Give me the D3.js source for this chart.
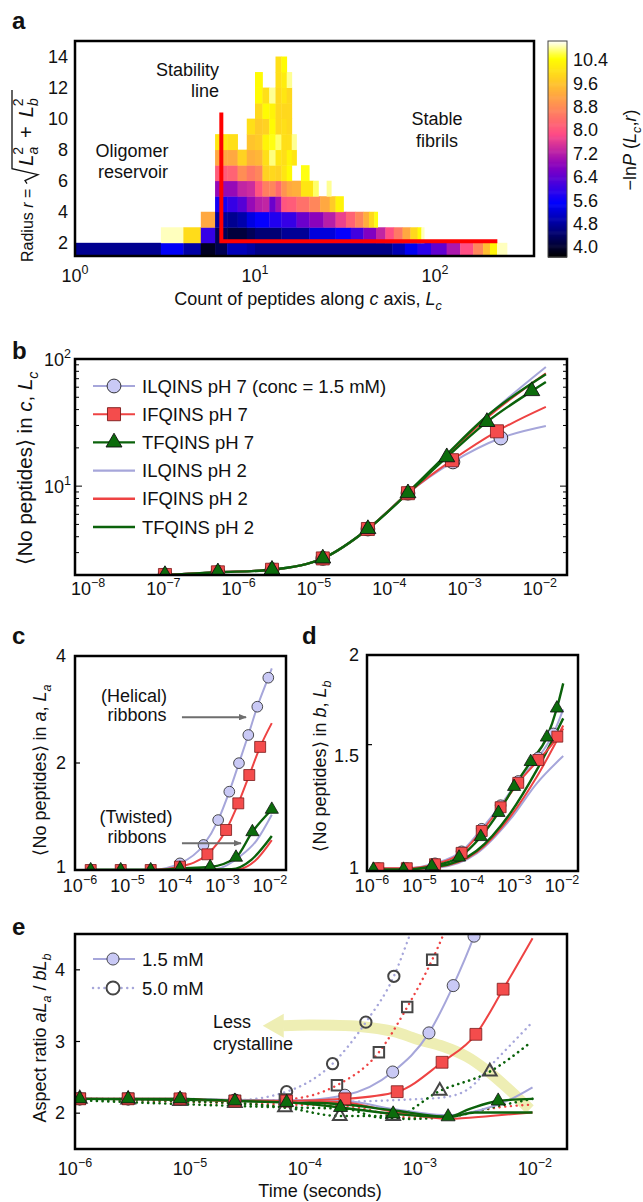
<!DOCTYPE html>
<html>
<head>
<meta charset="utf-8">
<script src="https://cdn.jsdelivr.net/npm/d3@7"></script>
<style>
  body { margin: 0; background: #fff; }
  text { font-family: "Liberation Sans", Arial, Helvetica, sans-serif; fill: #111; }
</style>
</head>
<body>
<script>
// ---------- panel a: -lnP(Lc, r), one array per radius bin: [Lc from, Lc to, value]
const rowR1 = [[1,3,4.7],[3,4,5.45],[4,5,4.85],[5,6,3.9],[6,7,4.25],[7,9,5.0],[9,10,4.85],[10,58,4.62],[58,68,4.95],[68,80,5.4],[80,95,5.9],[95,116,6.4],[116,138,7.1],[138,163,7.9],[163,185,8.7],[185,202,9.5],[202,221,10.3],[221,251,10.9]];
const rowR2 = [[3,4,10.9],[4,5,9.95],[5,6,6.0],[6,7,4.3],[7,9,4.1],[9,10,4.3],[10,14,4.5],[14,20,4.75],[20,28,5.25],[28,34,5.55],[34,40,6.1],[40,47,6.7],[47,53,7.3],[53,59,7.9],[59,66,8.5],[66,73,9.2],[73,80,9.9],[80,84,10.4],[84,87,10.9]];
const rowR3 = [[5,6,9.2],[6,7,4.8],[7,8,4.7],[8,9,4.9],[9,10,5.3],[10,12,5.55],[12,14,5.8],[14,17,6.0],[17,20,6.5],[20,24,6.8],[24,28,7.2],[28,32,7.7],[32,36,8.2],[36,40,8.7],[40,43,9.3],[43,46,9.9],[46,48,10.5]];
const rowR4 = [[6,7,5.7],[7,8,6.0],[8,9,6.3],[9,10,6.9],[10,11,7.2],[11,12,7.3],[12,13,6.5],[13,14,7.0],[14,15,8.0],[15,17,8.1],[17,20,8.4],[20,23,8.7],[23,26,9.2],[26,28,9.7],[28,31,10.3]];
const rowR5 = [[6,8,6.9],[8,9,7.3],[9,10,7.4],[10,11,8.0],[11,12,8.6],[12,13,8.7],[13,14,8.3],[14,15,8.9],[15,16,9.2],[16,18,9.3],[18,21,10.1],[21,22.5,10.7],[25,26.5,10.8]];
const rowR6 = [[6,7,8.1],[7,8,8.2],[8,9,8.8],[9,10,8.5],[10,11,8.7],[11,12,9.8],[12,13,9.9],[13,14,9.8],[14,15,10.1],[15,16,10.4],[18,20,10.5]];
const rowR7 = [[6,7,9.2],[7,8,9.2],[8,9,9.8],[9,10,9.3],[10,11,9.4],[11,12,10.0],[12,13,10.75],[13,14,10.1],[14,15,10.0],[15,16,10.3],[16,17,10.1]];
const rowR8 = [[6,7,10.1],[7,8,10.0],[9,10,9.6],[10,11,9.7],[11,12,10.3],[12,13,10.5],[13,14,10.7],[14,15,10.0],[15,16,10.0],[16,17,10.8]];
const rowR9 = [[9,10,10.0],[10,11,9.7],[11,12,9.8],[12,13,10.4],[13,14,9.9],[14,15,10.0],[15,16,9.9]];
const rowR10 = [[10,11,9.9],[11,12,10.4],[12,13,10.3],[13,14,9.9],[14,15,9.9],[15,16,9.9]];
const rowR11 = [[10,11,10.4],[11,12,10.0],[12,13,10.8],[13,14,9.9],[14,15,10.1],[15,16,9.9]];
const rowR12 = [[10,11,10.4],[13,14,10.0],[14,15,10.2],[15,16,10.8]];
const rowR13 = [[13,14,10.0],[14,15,10.4]];
const heatRows = [[1,rowR1],[2,rowR2],[3,rowR3],[4,rowR4],[5,rowR5],[6,rowR6],[7,rowR7],[8,rowR8],[9,rowR9],[10,rowR10],[11,rowR11],[12,rowR12],[13,rowR13]];
const aYTicks = [2,4,6,8,10,12,14];
const aXTicks = [0,1,2];
const colorbarTicks = [4.0,4.8,5.6,6.4,7.2,8.0,8.8,9.6,10.4];
const stabilityLine = [[6.5,10.4],[6.5,2.1],[222,2.1]];

// ---------- panel b: <No peptides> in c, Lc  [time, value]
const bILQ7 = [[1.05e-7,2.0],[5.3e-7,2.1],[2.77e-6,2.2],[1.31e-5,2.7],[5.2e-5,4.6],[1.77e-4,8.8],[7.0e-4,15.5],[3.03e-3,23.9]];
const bIFQ7 = [[1.05e-7,2.0],[5.3e-7,2.1],[2.77e-6,2.2],[1.31e-5,2.7],[5.2e-5,4.6],[1.77e-4,8.8],[6.8e-4,16.0],[2.69e-3,27]];
const bTFQ7 = [[1.05e-7,2.0],[5.3e-7,2.1],[2.77e-6,2.2],[1.31e-5,2.7],[5.2e-5,4.6],[1.77e-4,8.8],[5.8e-4,16.9],[1.98e-3,32],[7.8e-3,56]];
const bILQ7Curve = [[1.05e-7,2.0],[5.3e-7,2.1],[2.77e-6,2.2],[1.31e-5,2.7],[5.2e-5,4.6],[1.77e-4,8.8],[7.0e-4,15.5],[3.03e-3,23.9],[1.2e-2,29.7]];
const bIFQ7Curve = [[1.05e-7,2.0],[5.3e-7,2.1],[2.77e-6,2.2],[1.31e-5,2.7],[5.2e-5,4.6],[1.77e-4,8.8],[6.8e-4,16.0],[2.69e-3,27],[1.2e-2,42]];
const bTFQ7Curve = [[1.05e-7,2.0],[5.3e-7,2.1],[2.77e-6,2.2],[1.31e-5,2.7],[5.2e-5,4.6],[1.77e-4,8.8],[5.8e-4,16.9],[1.98e-3,32],[7.8e-3,56],[1.2e-2,66]];
const bILQ2Curve = [[1.05e-7,2.0],[5.3e-7,2.1],[2.77e-6,2.2],[1.31e-5,2.7],[5.2e-5,4.6],[1.77e-4,8.9],[5.8e-4,17.6],[2e-3,35.5],[1.2e-2,86.5]];
const bIFQ2Curve = [[1.05e-7,2.0],[5.3e-7,2.1],[2.77e-6,2.2],[1.31e-5,2.7],[5.2e-5,4.6],[1.77e-4,8.9],[5.8e-4,17.4],[2e-3,34.5],[1.2e-2,77]];
const bTFQ2Curve = [[1.05e-7,2.0],[5.3e-7,2.1],[2.77e-6,2.2],[1.31e-5,2.7],[5.2e-5,4.6],[1.77e-4,8.9],[5.8e-4,17.8],[2e-3,35.8],[1.2e-2,76]];
const bXTicks = [-8,-7,-6,-5,-4,-3,-2];
const bLegend = ["ILQINS pH 7 (conc = 1.5 mM)","IFQINS pH 7","TFQINS pH 7","ILQINS pH 2","IFQINS pH 2","TFQINS pH 2"];

// ---------- panel c: <No peptides> in a, La
const cILQ7 = [[1.68e-6,1.0],[7.2e-6,1.0],[3.08e-5,1.0],[1.27e-4,1.044],[3.98e-4,1.176],[8.1e-4,1.382],[1.39e-3,1.661],[2.22e-3,1.998],[3.49e-3,2.398],[5.4e-3,2.88],[9.2e-3,3.475]];
const cIFQ7 = [[1.68e-6,1.0],[7.2e-6,1.0],[3.08e-5,1.0],[1.27e-4,1.022],[4.8e-4,1.107],[1.19e-3,1.296],[2.15e-3,1.54],[3.66e-3,1.85],[6.2e-3,2.22]];
const cTFQ7 = [[1.68e-6,1.0],[7.2e-6,1.0],[3.08e-5,1.0],[1.27e-4,1.01],[5.5e-4,1.02],[1.92e-3,1.085],[4.25e-3,1.28],[1.09e-2,1.48]];
const cILQ7Curve = [[1.68e-6,1.0],[3.08e-5,1.0],[1.27e-4,1.044],[3.98e-4,1.176],[8.1e-4,1.382],[1.39e-3,1.661],[2.22e-3,1.998],[3.49e-3,2.398],[5.4e-3,2.88],[9.2e-3,3.475],[1.09e-2,3.69]];
const cIFQ7Curve = [[1.68e-6,1.0],[3.08e-5,1.0],[1.27e-4,1.022],[4.8e-4,1.107],[1.19e-3,1.296],[2.15e-3,1.54],[3.66e-3,1.85],[6.2e-3,2.22],[1.09e-2,2.59]];
const cTFQ7Curve = [[1.68e-6,1.0],[3.08e-5,1.0],[1.27e-4,1.01],[5.5e-4,1.02],[1.92e-3,1.085],[4.25e-3,1.28],[1.09e-2,1.48]];
const cILQ2Curve = [[1.68e-6,1.0],[1e-4,1.0],[6.9e-4,1.005],[2.3e-3,1.09],[5.2e-3,1.21],[1.09e-2,1.43]];
const cIFQ2Curve = [[1.68e-6,1.0],[1e-4,1.0],[2.1e-3,1.005],[4.8e-3,1.06],[1.09e-2,1.214]];
const cTFQ2Curve = [[1.68e-6,1.0],[1e-4,1.0],[1.55e-3,1.005],[4.1e-3,1.07],[1.09e-2,1.246]];
const cArrows = [[1.4e-4,3.13e-3,2.69],[1.4e-4,2.45e-3,1.19]];
const cdXTicks = [-6,-5,-4,-3,-2];

// ---------- panel d: <No peptides> in b, Lb
const dILQ7 = [[1.36e-6,1.009],[5.4e-6,1.009],[2.12e-5,1.025],[7.7e-5,1.065],[2.04e-4,1.145],[5.1e-4,1.235],[1.2e-3,1.335],[3.17e-3,1.44],[6.6e-3,1.555]];
const dIFQ7 = [[1.36e-6,1.009],[5.4e-6,1.009],[2.12e-5,1.022],[7.7e-5,1.06],[2.04e-4,1.137],[5.1e-4,1.227],[1.2e-3,1.327],[3.17e-3,1.428],[7.96e-3,1.539]];
const dTFQ7 = [[1.07e-6,1.005],[4.6e-6,1.005],[1.82e-5,1.016],[6.8e-5,1.045],[1.95e-4,1.116],[4.6e-4,1.206],[9.8e-4,1.311],[2.19e-3,1.42],[4.8e-3,1.536],[7.8e-3,1.686]];
const dILQ7Curve = [[1.36e-6,1.009],[5.4e-6,1.009],[2.12e-5,1.025],[7.7e-5,1.065],[2.04e-4,1.145],[5.1e-4,1.235],[1.2e-3,1.335],[3.17e-3,1.44],[6.6e-3,1.555],[1.06e-2,1.68]];
const dIFQ7Curve = [[1.36e-6,1.009],[5.4e-6,1.009],[2.12e-5,1.022],[7.7e-5,1.06],[2.04e-4,1.137],[5.1e-4,1.227],[1.2e-3,1.327],[3.17e-3,1.428],[7.96e-3,1.539],[1.06e-2,1.595]];
const dTFQ7Curve = [[1.07e-6,1.005],[4.6e-6,1.005],[1.82e-5,1.016],[6.8e-5,1.045],[1.95e-4,1.116],[4.6e-4,1.206],[9.8e-4,1.311],[2.19e-3,1.42],[4.8e-3,1.536],[7.8e-3,1.686],[1.06e-2,1.826]];
const dILQ2Curve = [[1.07e-6,1.0],[2.3e-5,1.01],[1.6e-4,1.058],[8.1e-4,1.18],[2.95e-3,1.325],[1.06e-2,1.446]];
const dIFQ2Curve = [[1.07e-6,1.0],[2.3e-5,1.012],[1.6e-4,1.062],[8.1e-4,1.19],[2.95e-3,1.353],[1.06e-2,1.58]];
const dTFQ2Curve = [[1.07e-6,1.0],[2.3e-5,1.014],[1.6e-4,1.067],[8.1e-4,1.203],[2.95e-3,1.383],[1.06e-2,1.632]];

// ---------- panel e: aspect ratio aLa / bLb
const eILQ7 = [[1.1e-6,2.2],[2.9e-6,2.2],[8.2e-6,2.2],[2.46e-5,2.18],[6.93e-5,2.17],[2.23e-4,2.25],[5.8e-4,2.574],[1.2e-3,3.12],[1.95e-3,3.78],[2.96e-3,4.47]];
const eIFQ7 = [[1.1e-6,2.2],[2.9e-6,2.2],[8.2e-6,2.2],[2.46e-5,2.17],[6.93e-5,2.17],[2.23e-4,2.2],[6.35e-4,2.30],[1.56e-3,2.71],[3.07e-3,3.10],[5.3e-3,3.73]];
const eTFQ7 = [[1.1e-6,2.2],[2.9e-6,2.2],[8.2e-6,2.2],[2.46e-5,2.17],[6.93e-5,2.15],[2.04e-4,2.08],[5.86e-4,1.99],[1.76e-3,1.95],[4.8e-3,2.17]];
const eILQ7Curve = [[1.1e-6,2.2],[8.2e-6,2.2],[2.46e-5,2.18],[6.93e-5,2.17],[2.23e-4,2.25],[5.8e-4,2.574],[1.2e-3,3.12],[1.95e-3,3.78],[2.96e-3,4.47],[3.6e-3,4.85]];
const eIFQ7Curve = [[1.1e-6,2.2],[8.2e-6,2.2],[2.46e-5,2.17],[6.93e-5,2.17],[2.23e-4,2.2],[6.35e-4,2.30],[1.56e-3,2.71],[3.07e-3,3.10],[5.3e-3,3.73],[9.55e-3,4.44]];
const eTFQ7Curve = [[1.1e-6,2.2],[8.2e-6,2.2],[2.46e-5,2.17],[6.93e-5,2.15],[2.04e-4,2.08],[5.86e-4,1.99],[1.76e-3,1.95],[2.72e-3,2.06],[4.8e-3,2.17],[9.55e-3,2.2]];
const eILQ2Curve = [[1.1e-6,2.2],[6.93e-5,2.18],[2.23e-4,2.17],[5.8e-4,2.06],[1.82e-3,1.97],[3.5e-3,2.05],[6.1e-3,2.19],[9.55e-3,2.36]];
const eIFQ2Curve = [[1.1e-6,2.2],[6.93e-5,2.17],[2.23e-4,2.15],[5.8e-4,2.02],[1.82e-3,1.92],[4.1e-3,1.96],[9.55e-3,2.01]];
const eTFQ2Curve = [[1.1e-6,2.2],[6.93e-5,2.16],[2.23e-4,2.12],[5.8e-4,2.04],[1.82e-3,1.95],[3.0e-3,2.01],[9.55e-3,2.01]];
// 5.0 mM (open markers, dotted)
const eILQ7h = [[1.1e-6,2.2],[2.9e-6,2.2],[8.2e-6,2.2],[2.46e-5,2.18],[6.93e-5,2.30],[1.74e-4,2.69],[3.39e-4,3.27],[5.94e-4,3.91]];
const eIFQ7h = [[1.1e-6,2.2],[2.9e-6,2.2],[8.2e-6,2.19],[2.46e-5,2.17],[6.7e-5,2.19],[1.9e-4,2.39],[4.4e-4,2.85],[7.76e-4,3.48],[1.28e-3,4.14]];
const eTFQ7h = [[1.1e-6,2.2],[2.9e-6,2.19],[8.2e-6,2.17],[2.46e-5,2.14],[6.7e-5,2.08],[2.01e-4,1.96],[5.86e-4,1.96],[1.49e-3,2.31],[4.06e-3,2.58]];
const eILQ7hCurve = [[1.1e-6,2.2],[8.2e-6,2.2],[2.46e-5,2.18],[6.93e-5,2.30],[1.74e-4,2.69],[3.39e-4,3.27],[5.94e-4,3.91],[8.2e-4,4.49],[1.0e-3,4.85]];
const eIFQ7hCurve = [[1.1e-6,2.2],[8.2e-6,2.19],[2.46e-5,2.17],[6.7e-5,2.19],[1.9e-4,2.39],[4.4e-4,2.85],[7.76e-4,3.48],[1.28e-3,4.14],[1.6e-3,4.49],[1.9e-3,4.8]];
const eTFQ7hCurve = [[1.1e-6,2.2],[8.2e-6,2.17],[2.46e-5,2.14],[6.7e-5,2.08],[2.01e-4,1.96],[5.86e-4,1.96],[1.49e-3,2.31],[4.06e-3,2.58],[8.75e-3,2.96]];
const eILQ2hCurve = [[1.1e-6,2.2],[6.93e-5,2.15],[8.2e-4,2.19],[1.6e-3,2.22],[2.6e-3,2.33],[4.65e-3,2.75],[9.4e-3,3.26]];
const eIFQ2hCurve = [[1.1e-6,2.2],[6.93e-5,2.12],[2.23e-4,2.1],[8.2e-4,1.94],[1.82e-3,1.96],[4.8e-3,2.08],[9.55e-3,2.12]];
const eTFQ2hCurve = [[1.1e-6,2.18],[6.93e-5,2.08],[2.23e-4,2.06],[4.4e-4,1.94],[8.2e-4,1.92],[2.0e-3,1.96],[4.8e-3,2.1],[9.55e-3,2.2]];
const eArrow = [[9.06e-3,2.054],[6.07e-3,2.32],[3.8e-3,2.60],[2.55e-3,2.79],[1.6e-3,2.93],[1.0e-3,3.02],[5.86e-4,3.14],[3.0e-4,3.21],[1.1e-4,3.23],[6.45e-5,3.22]];
const eArrowTip = [4.3e-5,3.22];
const eYTicks = [2,3,4];
const eXTicks = [-6,-5,-4,-3,-2];

// ---------- drawing
const W = 643, H = 1202;
const col = {
  ilq: "#a6a6da", ilqFill: "#c9c9f5",
  ifq: "#ee4343", ifqFill: "#f44c4c",
  tfq: "#0b620b", tfqFill: "#0c6c0c",
  hollow: "#454545"
};

const svg = d3.select("body").append("svg").attr("width", W).attr("height", H);
svg.append("rect").attr("width", W).attr("height", H).attr("fill", "#fff");
const defs = svg.append("defs");

function clipFor(id, x0, y0, x1, y1) {
  defs.append("clipPath").attr("id", id).append("rect")
    .attr("x", x0).attr("y", y0).attr("width", x1 - x0).attr("height", y1 - y0);
  return svg.append("g").attr("clip-path", `url(#${id})`);
}

function frame(x0, y0, x1, y1) {
  svg.append("rect").attr("x", x0).attr("y", y0).attr("width", x1 - x0).attr("height", y1 - y0)
    .attr("fill", "none").attr("stroke", "#000").attr("stroke-width", 2.5);
}

function powLabel(x, y, exp, anchor) {
  const t = svg.append("text").attr("x", x).attr("y", y).attr("text-anchor", anchor).attr("font-size", 18);
  t.append("tspan").text("10");
  t.append("tspan").attr("dy", -8).attr("font-size", 12.5).text(exp < 0 ? "\u2212" + (-exp) : String(exp));
  return t;
}

// parts: [text, style] with style among "", "i", "sub", "isub", "sup"
function rich(t, parts, fs) {
  let shift = 0;
  parts.forEach(([s, st = ""]) => {
    const sp = t.append("tspan").text(s);
    let target = 0;
    if (st.includes("sub")) target = 0.3 * fs;
    if (st.includes("sup")) target = -0.45 * fs;
    if (target !== shift) { sp.attr("dy", target - shift); shift = target; }
    if (st.startsWith("i")) sp.attr("font-style", "italic");
    if (target !== 0) sp.attr("font-size", fs * 0.7);
  });
  return t;
}

function panelLetter(s, x, y) {
  svg.append("text").attr("x", x).attr("y", y).attr("font-size", 24).attr("font-weight", "bold").text(s);
}

function drawCurve(g, x, y, data, color, width, dotted) {
  g.append("path").datum(data)
    .attr("fill", "none").attr("stroke", color).attr("stroke-width", width)
    .attr("stroke-linecap", dotted ? "round" : "butt")
    .attr("stroke-dasharray", dotted ? "0.1,5.6" : null)
    .attr("d", d3.line().x(d => x(d[0])).y(d => y(d[1])).curve(d3.curveMonotoneX));
}

function drawMarks(g, x, y, data, type, size, fill, stroke, sw) {
  g.selectAll(null).data(data).join("path")
    .attr("transform", d => `translate(${x(d[0])},${y(d[1])})`)
    .attr("d", d3.symbol(type, size)())
    .attr("fill", fill).attr("stroke", stroke).attr("stroke-width", sw);
}

// gnuplot2-style colour map
function gnuplot2(t) {
  t = Math.max(0, Math.min(1, t));
  const cl = v => Math.max(0, Math.min(1, v));
  const r = cl(t / 0.32 - 0.78125), g = cl(2 * t - 0.84);
  const b = t < 0.25 ? 4 * t : (t < 0.92 ? (0.92 - t) / 0.67 : (t - 0.92) / 0.08);
  return d3.rgb(r * 255, g * 255, cl(b) * 255).toString();
}
const cMin = 3.66, cMax = 11.05;
const heatColor = v => gnuplot2((v - cMin) / (cMax - cMin));

// ================= panel a =================
const ax = d3.scaleLog().domain([1, 354.8]).range([75, 534]);
const ay = d3.scaleLinear().domain([1.15, 15]).range([256, 41]);
const gA = clipFor("clipA", 75, 41, 534, 256);
heatRows.forEach(([r, cells]) => {
  gA.selectAll(null).data(cells).join("rect")
    .attr("x", d => ax(d[0])).attr("width", d => ax(d[1]) - ax(d[0]) + 0.4)
    .attr("y", ay(r + 1)).attr("height", ay(r) - ay(r + 1) + 0.4)
    .attr("fill", d => heatColor(d[2]));
});
gA.append("path").datum(stabilityLine)
  .attr("fill", "none").attr("stroke", "#ff0000").attr("stroke-width", 4)
  .attr("d", d3.line().x(d => ax(d[0])).y(d => ay(d[1])));
frame(75, 41, 534, 256);
panelLetter("a", 12, 29);

aYTicks.forEach(v => svg.append("text").attr("x", 68).attr("y", ay(v)).attr("dy", "0.35em")
  .attr("text-anchor", "end").attr("font-size", 18).text(v));
aXTicks.forEach(e => powLabel(ax(Math.pow(10, e)), 282, e, "middle"));

rich(svg.append("text").attr("x", 308).attr("y", 305).attr("text-anchor", "middle").attr("font-size", 18),
  [["Count of peptides along "], ["c", "i"], [" axis, "], ["L", "i"], ["c", "isub"]], 18);

// rotated y label with radical
{
  const g = svg.append("g").attr("transform", "translate(33,262) rotate(-90)");
  const t1 = rich(g.append("text").attr("x", 0).attr("y", 0).attr("font-size", 16),
    [["Radius "], ["r", "i"], [" ="]], 16);
  const w1 = t1.node().getComputedTextLength();
  const rx = w1 + 5;
  const x2 = rx + 18;
  const t2 = g.append("text").attr("x", x2).attr("y", 0).attr("font-size", 20);
  t2.append("tspan").attr("font-style", "italic").text("L");
  t2.append("tspan").attr("font-style", "italic").attr("font-size", 14).attr("dy", 5).text("a");
  t2.append("tspan").attr("font-size", 14).attr("dx", -8).attr("dy", -15).text("2");
  t2.append("tspan").attr("dx", 9).attr("dy", 10).text("+");
  t2.append("tspan").attr("dx", 9).attr("font-style", "italic").text("L");
  t2.append("tspan").attr("font-style", "italic").attr("font-size", 14).attr("dy", 5).text("b");
  t2.append("tspan").attr("font-size", 14).attr("dx", -8).attr("dy", -15).text("2");
  const bb = t2.node().getBBox();
  const top = -21;
  g.append("path")
    .attr("d", `M${rx},${-6} L${rx + 3},${-8} L${rx + 9},${5} L${rx + 15},${top} L${bb.x + bb.width + 8},${top}`)
    .attr("fill", "none").attr("stroke", "#111").attr("stroke-width", 1.3);
}

// annotations
svg.append("text").attr("x", 219).attr("y", 76).attr("text-anchor", "end").attr("font-size", 18).text("Stability");
svg.append("text").attr("x", 219).attr("y", 97).attr("text-anchor", "end").attr("font-size", 18).text("line");
svg.append("text").attr("x", 132).attr("y", 157).attr("text-anchor", "middle").attr("font-size", 18).text("Oligomer");
svg.append("text").attr("x", 133).attr("y", 178).attr("text-anchor", "middle").attr("font-size", 18).text("reservoir");
svg.append("text").attr("x", 437).attr("y", 125).attr("text-anchor", "middle").attr("font-size", 18).text("Stable");
svg.append("text").attr("x", 437).attr("y", 147).attr("text-anchor", "middle").attr("font-size", 18).text("fibrils");

// colour bar
const cbY = d3.scaleLinear().domain([cMin, cMax]).range([257, 41]);
const cbSteps = d3.range(0, 200).map(i => cMin + (cMax - cMin) * i / 200);
svg.append("g").selectAll("rect").data(cbSteps).join("rect")
  .attr("x", 548).attr("width", 19)
  .attr("y", d => cbY(d + (cMax - cMin) / 200)).attr("height", (257 - 41) / 200 + 0.6)
  .attr("fill", d => heatColor(d));
svg.append("rect").attr("x", 548).attr("y", 41).attr("width", 19).attr("height", 216)
  .attr("fill", "none").attr("stroke", "#444").attr("stroke-width", 1);
colorbarTicks.forEach(v => svg.append("text").attr("x", 573).attr("y", cbY(v)).attr("dy", "0.35em")
  .attr("font-size", 18).text(v.toFixed(1)));
rich(svg.append("text").attr("transform", "translate(636,150) rotate(-90)").attr("text-anchor", "middle").attr("font-size", 18),
  [["\u2212ln"], ["P", "i"], [" ("], ["L", "i"], ["c", "isub"], [","], ["r", "i"], [")"]], 18);

// ================= panel b =================
const bx = d3.scaleLog().domain([6.71e-9, 2.29e-2]).range([75, 567]);
const by = d3.scaleLog().domain([2, 100]).range([575, 359]);
const gB = clipFor("clipB", 75, 359, 567, 575);
drawCurve(gB, bx, by, bILQ2Curve, col.ilq, 2, false);
drawCurve(gB, bx, by, bIFQ2Curve, col.ifq, 2, false);
drawCurve(gB, bx, by, bTFQ2Curve, col.tfq, 2.4, false);
drawCurve(gB, bx, by, bILQ7Curve, col.ilq, 2, false);
drawCurve(gB, bx, by, bIFQ7Curve, col.ifq, 2, false);
drawCurve(gB, bx, by, bTFQ7Curve, col.tfq, 2.4, false);
drawMarks(gB, bx, by, bILQ7, d3.symbolCircle, 150, col.ilqFill, "#222", 0.9);
drawMarks(gB, bx, by, bIFQ7, d3.symbolSquare, 170, col.ifqFill, "#7a1a1a", 0.8);
drawMarks(gB, bx, by, bTFQ7, d3.symbolTriangle, 110, col.tfqFill, "#111", 0.9);
// minor/major y ticks, both sides
const bYT = [3,4,5,6,7,8,9,10,20,30,40,50,60,70,80,90];
bYT.forEach(v => {
  const L = (v === 10) ? 7 : 4;
  svg.append("line").attr("x1", 75).attr("x2", 75 + L).attr("y1", by(v)).attr("y2", by(v)).attr("stroke", "#000");
  svg.append("line").attr("x1", 567).attr("x2", 567 - L).attr("y1", by(v)).attr("y2", by(v)).attr("stroke", "#000");
});
frame(75, 359, 567, 575);
panelLetter("b", 12, 359);
bXTicks.forEach(e => powLabel(bx(Math.pow(10, e)), 595, e, "middle"));
powLabel(71, by(100) + 7, 2, "end");
powLabel(71, by(10) + 7, 1, "end");
rich(svg.append("text").attr("transform", `translate(32,468) rotate(-90)`).attr("text-anchor", "middle").attr("font-size", 20.5),
  [["\u27E8No peptides\u27E9 in "], ["c", "i"], [", "], ["L", "i"], ["c", "isub"]], 20.5);

// legend b
{
  const styles = [
    [col.ilq, 2, d3.symbolCircle, 150, col.ilqFill, "#222"],
    [col.ifq, 2, d3.symbolSquare, 170, col.ifqFill, "#7a1a1a"],
    [col.tfq, 2.4, d3.symbolTriangle, 110, col.tfqFill, "#111"],
    [col.ilq, 2.4, null], [col.ifq, 2.4, null], [col.tfq, 2.6, null]
  ];
  bLegend.forEach((name, i) => {
    const yy = 386 + i * 28.2;
    const s = styles[i];
    svg.append("line").attr("x1", 93).attr("x2", 135).attr("y1", yy).attr("y2", yy)
      .attr("stroke", s[0]).attr("stroke-width", s[1]);
    if (s[2]) svg.append("path").attr("transform", `translate(114,${yy})`).attr("d", d3.symbol(s[2], s[3])())
      .attr("fill", s[4]).attr("stroke", s[5]).attr("stroke-width", 0.9);
    svg.append("text").attr("x", 142).attr("y", yy + 6.5).attr("font-size", 18.5).text(name);
  });
}

// ================= panel c =================
const cx = d3.scaleLog().domain([7.85e-7, 2.17e-2]).range([75, 286]);
const cy = d3.scaleLog().domain([1, 4]).range([870, 656]);
const gC = clipFor("clipC", 75, 656, 286, 870);
drawCurve(gC, cx, cy, cILQ2Curve, col.ilq, 2, false);
drawCurve(gC, cx, cy, cIFQ2Curve, col.ifq, 2, false);
drawCurve(gC, cx, cy, cTFQ2Curve, col.tfq, 2.4, false);
drawCurve(gC, cx, cy, cILQ7Curve, col.ilq, 2, false);
drawCurve(gC, cx, cy, cIFQ7Curve, col.ifq, 2, false);
drawCurve(gC, cx, cy, cTFQ7Curve, col.tfq, 2.4, false);
drawMarks(gC, cx, cy, cILQ7, d3.symbolCircle, 90, col.ilqFill, "#222", 0.8);
drawMarks(gC, cx, cy, cIFQ7, d3.symbolSquare, 120, col.ifqFill, "#7a1a1a", 0.8);
drawMarks(gC, cx, cy, cTFQ7, d3.symbolTriangle, 75, col.tfqFill, "#111", 0.8);
defs.append("marker").attr("id", "grayHead").attr("viewBox", "0 0 10 8").attr("refX", 9).attr("refY", 4)
  .attr("markerWidth", 4).attr("markerHeight", 3.2).attr("orient", "auto")
  .append("path").attr("d", "M0,0 L10,4 L0,8 z").attr("fill", "#6e6e6e");
cArrows.forEach(a => svg.append("line")
  .attr("x1", cx(a[0])).attr("x2", cx(a[1])).attr("y1", cy(a[2])).attr("y2", cy(a[2]))
  .attr("stroke", "#6e6e6e").attr("stroke-width", 2).attr("marker-end", "url(#grayHead)"));
svg.append("text").attr("x", 134).attr("y", 702).attr("text-anchor", "middle").attr("font-size", 18).text("(Helical)");
svg.append("text").attr("x", 137).attr("y", 721).attr("text-anchor", "middle").attr("font-size", 18).text("ribbons");
svg.append("text").attr("x", 136).attr("y", 823).attr("text-anchor", "middle").attr("font-size", 18).text("(Twisted)");
svg.append("text").attr("x", 137).attr("y", 843).attr("text-anchor", "middle").attr("font-size", 18).text("ribbons");
svg.append("line").attr("x1", 75).attr("x2", 80).attr("y1", cy(2)).attr("y2", cy(2)).attr("stroke", "#000").attr("stroke-width", 1.2);
frame(75, 656, 286, 870);
panelLetter("c", 12, 644);
[4, 2, 1].forEach(v => svg.append("text").attr("x", 66).attr("y", cy(v) - (v === 1 ? 3 : 0)).attr("dy", "0.35em")
  .attr("text-anchor", "end").attr("font-size", 18).text(v));
cdXTicks.forEach(e => powLabel(cx(Math.pow(10, e)), 892, e, "middle"));
rich(svg.append("text").attr("transform", `translate(46,770) rotate(-90)`).attr("text-anchor", "middle").attr("font-size", 18),
  [["\u27E8No peptides\u27E9 in "], ["a", "i"], [", "], ["L", "i"], ["a", "isub"]], 18);

// ================= panel d =================
const dx = d3.scaleLog().domain([7.85e-7, 2.17e-2]).range([367, 578]);
const dy = d3.scaleLog().domain([1, 2]).range([871, 655]);
const gD = clipFor("clipD", 367, 655, 578, 871);
drawCurve(gD, dx, dy, dILQ2Curve, col.ilq, 2, false);
drawCurve(gD, dx, dy, dIFQ2Curve, col.ifq, 2, false);
drawCurve(gD, dx, dy, dTFQ2Curve, col.tfq, 2.4, false);
drawCurve(gD, dx, dy, dILQ7Curve, col.ilq, 2, false);
drawCurve(gD, dx, dy, dIFQ7Curve, col.ifq, 2, false);
drawCurve(gD, dx, dy, dTFQ7Curve, col.tfq, 2.4, false);
drawMarks(gD, dx, dy, dILQ7, d3.symbolCircle, 90, col.ilqFill, "#222", 0.8);
drawMarks(gD, dx, dy, dIFQ7, d3.symbolSquare, 120, col.ifqFill, "#7a1a1a", 0.8);
drawMarks(gD, dx, dy, dTFQ7, d3.symbolTriangle, 75, col.tfqFill, "#111", 0.8);
svg.append("line").attr("x1", 367).attr("x2", 372).attr("y1", dy(1.5)).attr("y2", dy(1.5)).attr("stroke", "#000").attr("stroke-width", 1.2);
frame(367, 655, 578, 871);
panelLetter("d", 302, 644);
svg.append("text").attr("x", 359).attr("y", dy(2)).attr("dy", "0.35em").attr("text-anchor", "end").attr("font-size", 18).text("2");
svg.append("text").attr("x", 359).attr("y", dy(1.5) + 11).attr("dy", "0.35em").attr("text-anchor", "end").attr("font-size", 18).text("1.5");
svg.append("text").attr("x", 359).attr("y", dy(1) - 3).attr("dy", "0.35em").attr("text-anchor", "end").attr("font-size", 18).text("1");
cdXTicks.forEach(e => powLabel(dx(Math.pow(10, e)), 892, e, "middle"));
rich(svg.append("text").attr("transform", `translate(326,766) rotate(-90)`).attr("text-anchor", "middle").attr("font-size", 18),
  [["\u27E8No peptides\u27E9 in "], ["b", "i"], [", "], ["L", "i"], ["b", "isub"]], 18);

// ================= panel e =================
const ex = d3.scaleLog().domain([1e-6, 1.905e-2]).range([75, 567]);
const ey = d3.scaleLinear().domain([1.5, 4.5]).range([1149, 934]);
const gE = clipFor("clipE", 75, 934, 567, 1149);
const bandColor = "#eeeeb4";
gE.append("path").datum(eArrow)
  .attr("fill", "none").attr("stroke", bandColor).attr("stroke-width", 11).attr("stroke-linecap", "butt")
  .attr("d", d3.line().x(d => ex(d[0])).y(d => ey(d[1])).curve(d3.curveCatmullRom));
{
  const tx = ex(eArrowTip[0]), ty = ey(eArrowTip[1]);
  gE.append("path").attr("d", `M${tx},${ty} L${tx + 21},${ty - 12} L${tx + 21},${ty + 12} Z`).attr("fill", bandColor);
}
drawCurve(gE, ex, ey, eILQ2hCurve, col.ilq, 2.4, true);
drawCurve(gE, ex, ey, eIFQ2hCurve, col.ifq, 2.4, true);
drawCurve(gE, ex, ey, eTFQ2hCurve, col.tfq, 2.6, true);
drawCurve(gE, ex, ey, eILQ7hCurve, col.ilq, 2.4, true);
drawCurve(gE, ex, ey, eIFQ7hCurve, col.ifq, 2.4, true);
drawCurve(gE, ex, ey, eTFQ7hCurve, col.tfq, 2.6, true);
drawCurve(gE, ex, ey, eILQ2Curve, col.ilq, 2, false);
drawCurve(gE, ex, ey, eIFQ2Curve, col.ifq, 2, false);
drawCurve(gE, ex, ey, eTFQ2Curve, col.tfq, 2.4, false);
drawCurve(gE, ex, ey, eILQ7Curve, col.ilq, 2, false);
drawCurve(gE, ex, ey, eIFQ7Curve, col.ifq, 2, false);
drawCurve(gE, ex, ey, eTFQ7Curve, col.tfq, 2.4, false);
drawMarks(gE, ex, ey, eILQ7h, d3.symbolCircle, 100, "none", col.hollow, 2);
drawMarks(gE, ex, ey, eIFQ7h, d3.symbolSquare, 110, "none", col.hollow, 2);
drawMarks(gE, ex, ey, eTFQ7h, d3.symbolTriangle, 80, "none", col.hollow, 2);
drawMarks(gE, ex, ey, eILQ7, d3.symbolCircle, 115, col.ilqFill, "#222", 0.8);
drawMarks(gE, ex, ey, eIFQ7, d3.symbolSquare, 140, col.ifqFill, "#7a1a1a", 0.8);
drawMarks(gE, ex, ey, eTFQ7, d3.symbolTriangle, 85, col.tfqFill, "#111", 0.8);
eYTicks.forEach(v => svg.append("line").attr("x1", 75).attr("x2", 80).attr("y1", ey(v)).attr("y2", ey(v)).attr("stroke", "#000").attr("stroke-width", 1.2));
frame(75, 934, 567, 1149);
panelLetter("e", 12, 935);
eYTicks.forEach(v => svg.append("text").attr("x", 65).attr("y", ey(v)).attr("dy", "0.35em")
  .attr("text-anchor", "end").attr("font-size", 18).text(v));
eXTicks.forEach(e => powLabel(ex(Math.pow(10, e)), 1175, e, "middle"));
svg.append("text").attr("x", 320).attr("y", 1197).attr("text-anchor", "middle").attr("font-size", 18).text("Time (seconds)");
rich(svg.append("text").attr("transform", `translate(46,1038) rotate(-90)`).attr("text-anchor", "middle").attr("font-size", 18),
  [["Aspect ratio "], ["aL", "i"], ["a", "isub"], [" / "], ["bL", "i"], ["b", "isub"]], 18);
svg.append("text").attr("x", 213).attr("y", 1028).attr("font-size", 18).text("Less");
svg.append("text").attr("x", 213).attr("y", 1050).attr("font-size", 18).text("crystalline");

// legend e
svg.append("line").attr("x1", 93).attr("x2", 135).attr("y1", 959).attr("y2", 959).attr("stroke", col.ilq).attr("stroke-width", 2);
svg.append("path").attr("transform", "translate(113,959)").attr("d", d3.symbol(d3.symbolCircle, 115)())
  .attr("fill", col.ilqFill).attr("stroke", "#222").attr("stroke-width", 0.8);
svg.append("text").attr("x", 142).attr("y", 965.5).attr("font-size", 18.5).text("1.5 mM");
svg.append("line").attr("x1", 93).attr("x2", 135).attr("y1", 988).attr("y2", 988).attr("stroke", col.ilq)
  .attr("stroke-width", 2.4).attr("stroke-linecap", "round").attr("stroke-dasharray", "0.1,5.6");
svg.append("circle").attr("cx", 113).attr("cy", 988).attr("r", 6.5).attr("fill", "#fff").attr("stroke", col.hollow).attr("stroke-width", 2);
svg.append("text").attr("x", 142).attr("y", 994.5).attr("font-size", 18.5).text("5.0 mM");
</script>
</body>
</html>
